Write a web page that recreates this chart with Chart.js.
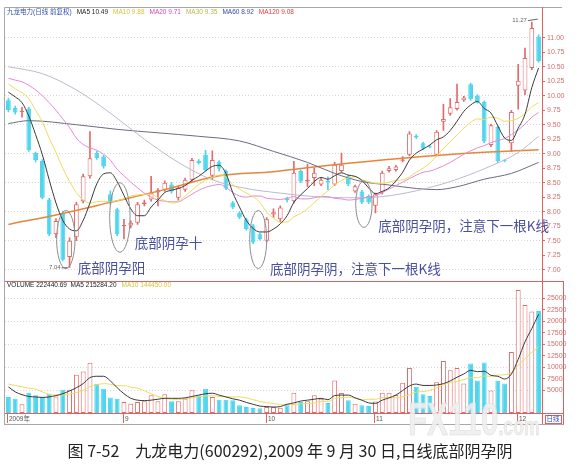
<!DOCTYPE html>
<html lang="zh">
<head>
<meta charset="utf-8">
<title>九龙电力 日线</title>
<script src="https://cdn.jsdelivr.net/npm/chart.js@4.4.1/dist/chart.umd.min.js"></script>
<style>
  html, body { margin:0; padding:0; background:#fff; }
  #wrap { position:relative; width:580px; height:466px; overflow:hidden; background:#fff; }
  canvas { position:absolute; left:0; }
  #priceCv { top:0; }
  #volCv { top:281px; }
  #wm { position:absolute; left:408px; top:392px; font:bold 46px "Liberation Sans"; color:rgba(238,238,238,0.9);
        -webkit-text-stroke:0.6px #dcdcdc; transform:scaleX(0.68); transform-origin:0 0; pointer-events:none; white-space:nowrap; }
  #wm span { font-size:26px; }
  #cap { position:absolute; left:0; top:438px; width:580px; text-align:center; font:16px "Noto Sans CJK SC"; line-height:24px; color:#222; white-space:pre; }
</style>
</head>
<body>
<div id="wrap">
  <canvas id="priceCv" width="580" height="281"></canvas>
  <canvas id="volCv" width="580" height="145"></canvas>
  <div id="wm">FX110<span>.com</span></div>
  <div id="cap">图 7-52　九龙电力(600292),2009 年 9 月 30 日,日线底部阴孕阴</div>
</div>
<script>
// ---------------- data ----------------
const categories = Array.from({length: 79}, (_, i) => String(i + 1));

const openP = [9.92,9.79,9.72,9.78,9.01,8.88,8.21,7.61,7.97,7.22,
  7.56,8.18,8.61,9.01,8.95,8.30,8.04,7.75,7.76,7.81,
  8.13,8.21,8.33,8.38,8.47,8.24,8.38,8.55,8.88,8.98,
  8.62,8.86,8.70,8.16,7.98,7.87,7.76,7.61,7.50,7.95,
  7.87,8.23,8.18,8.70,8.52,8.58,8.47,8.53,8.47,8.70,
  8.61,8.35,8.35,8.27,8.10,8.33,8.70,8.72,8.88,8.98,
  9.31,9.18,9.13,8.98,9.55,9.69,9.77,9.92,10.20,10.00,
  9.89,9.15,9.46,8.89,9.18,10.17,10.09,10.48,11.02];
const highP = [9.96,9.82,9.80,9.80,9.03,8.90,8.23,7.88,8.00,7.55,
  8.16,8.65,9.38,9.04,8.97,8.36,8.06,7.87,7.84,8.16,
  8.20,8.61,8.40,8.53,8.50,8.44,8.58,8.92,8.90,9.06,
  9.05,8.88,8.72,8.18,8.00,7.89,7.78,7.63,7.90,8.05,
  8.10,8.25,8.87,8.72,8.82,8.75,8.58,8.60,8.85,9.01,
  8.63,8.46,8.37,8.29,8.32,8.70,8.78,8.80,8.95,9.38,
  9.33,9.20,9.15,9.40,9.85,9.95,10.20,9.99,10.22,10.02,
  9.91,9.51,9.48,8.90,9.75,10.54,10.82,11.27,11.05];
const lowP = [9.72,9.68,9.63,9.04,8.86,8.22,7.58,7.55,7.15,7.04,
  7.50,8.15,8.58,8.90,8.75,8.12,7.58,7.53,7.72,7.78,
  8.10,8.18,8.10,8.35,8.32,8.20,8.35,8.52,8.82,8.70,
  8.55,8.70,8.38,8.05,7.88,7.68,7.45,7.51,7.48,7.90,
  7.82,8.17,8.15,8.50,8.43,8.45,8.45,8.38,8.45,8.68,
  8.45,8.33,8.14,8.14,7.98,8.30,8.68,8.70,8.86,8.96,
  9.26,9.07,9.10,8.96,9.40,9.66,9.75,9.90,9.92,9.87,
  9.19,9.12,8.85,8.86,9.04,9.77,10.02,10.45,10.58];
const closeP = [9.75,9.71,9.74,9.06,8.89,8.24,7.61,7.84,7.17,7.50,
  8.13,8.61,8.92,8.92,8.78,8.16,7.61,7.77,7.81,8.13,
  8.16,8.33,8.37,8.50,8.35,8.41,8.55,8.89,8.84,8.72,
  8.89,8.74,8.40,8.07,7.90,7.70,7.47,7.53,7.87,7.99,
  8.07,8.20,8.67,8.52,8.55,8.67,8.55,8.51,8.81,8.81,
  8.47,8.44,8.16,8.16,8.30,8.67,8.75,8.78,8.90,9.35,
  9.28,9.09,9.11,9.38,9.60,9.80,9.89,9.97,9.94,9.89,
  9.21,9.49,8.87,8.88,9.72,10.26,10.65,11.17,10.60];

const volume = [3480,3130,1890,4430,3840,3480,4210,3620,5080,5080,
  8350,9060,10960,6390,5300,3350,3130,2390,2040,2390,
  2540,3840,2540,4060,2540,2540,3130,4930,3840,5300,
  3480,2900,2900,2760,1670,1300,1090,1010,1300,1300,
  1160,1670,4430,2390,2540,3840,3130,2170,7100,4350,
  2760,2040,1670,1500,2500,4400,4400,3900,6600,9800,
  5700,4100,3700,6700,11300,9300,9800,6400,10800,7100,
  11000,4900,7000,6400,13300,26800,23500,22100,22240];

const ma5 = [10.06,9.98,9.88,9.65,9.33,8.98,8.55,8.15,7.85,7.70,
  7.67,7.85,8.15,8.48,8.65,8.67,8.52,8.28,8.05,7.93,
  7.93,8.08,8.20,8.33,8.37,8.40,8.45,8.54,8.61,8.70,
  8.78,8.80,8.66,8.33,8.08,7.85,7.71,7.65,7.65,7.70,
  7.79,7.93,8.16,8.29,8.40,8.52,8.59,8.56,8.62,8.67,
  8.63,8.61,8.54,8.41,8.31,8.35,8.41,8.53,8.68,8.89,
  9.01,9.08,9.15,9.24,9.29,9.40,9.56,9.73,9.84,9.90,
  9.78,9.70,9.48,9.27,9.23,9.44,9.68,10.14,10.48];
const ma10 = [10.20,10.12,10.05,9.95,9.75,9.55,9.27,9.02,8.75,8.52,
  8.33,8.20,8.15,8.17,8.18,8.17,8.19,8.22,8.27,8.29,
  8.30,8.30,8.24,8.19,8.15,8.17,8.27,8.37,8.47,8.54,
  8.59,8.63,8.60,8.47,8.39,8.32,8.26,8.16,7.99,7.89,
  7.82,7.82,7.91,7.97,8.05,8.16,8.26,8.36,8.46,8.54,
  8.58,8.60,8.55,8.52,8.49,8.49,8.51,8.54,8.55,8.60,
  8.68,8.75,8.84,8.96,9.09,9.21,9.32,9.44,9.54,9.60,
  9.59,9.63,9.61,9.56,9.57,9.61,9.69,9.81,9.88];
const ma20 = [10.30,10.27,10.24,10.18,10.10,10.00,9.88,9.75,9.60,9.45,
  9.27,9.16,9.10,9.06,8.99,8.89,8.73,8.62,8.51,8.41,
  8.32,8.25,8.20,8.18,8.17,8.17,8.23,8.30,8.37,8.42,
  8.45,8.47,8.42,8.33,8.27,8.25,8.27,8.27,8.23,8.22,
  8.21,8.23,8.26,8.22,8.22,8.24,8.26,8.26,8.23,8.22,
  8.20,8.21,8.23,8.25,8.27,8.33,8.39,8.45,8.51,8.57,
  8.63,8.68,8.70,8.74,8.79,8.85,8.92,8.99,9.05,9.10,
  9.14,9.19,9.23,9.26,9.33,9.41,9.51,9.63,9.71];
const ma30Idx = [0,5,10,15,20,25,30,35,40,45,50,55,60,65,70,75,78];
const ma30Val = [10.50,10.38,10.10,9.70,9.25,8.85,8.55,8.40,8.32,8.26,8.24,8.26,8.36,8.52,8.74,9.02,9.30];
const ma60Idx = [0,3,10,16,22,28,34,39,44,48,52,56,60,63,66,70,74,78];
const ma60Val = [9.52,9.57,9.50,9.42,9.36,9.30,9.22,9.04,8.85,8.66,8.52,8.46,8.40,8.38,8.43,8.56,8.66,8.85];
const ma120Idx = [0,8,15,23,31,39,48,58,68,78];
const ma120Val = [7.78,7.97,8.16,8.38,8.62,8.69,8.81,8.92,9.01,9.07];

const volMa5 = [5700,4600,4000,3600,3500,3400,3500,3800,4200,4800,
  5500,6400,7700,8000,8000,7000,5500,4200,3200,2800,
  2700,2800,3000,3200,3200,3200,3300,3600,3900,4200,
  4300,3900,3500,3100,2800,2300,1900,1500,1400,1300,
  1400,1900,2200,2600,2800,3000,3200,2900,3800,3900,
  3900,3300,2800,2200,2100,2800,3300,3900,4900,5900,
  6300,6000,6000,6100,6400,7000,7800,8500,9300,9000,
  9100,8200,8000,7400,8500,11700,15500,18400,21500];
const volMa10 = [6300,6000,5700,5400,5200,4600,4050,3900,3900,4150,
  4450,4950,5750,6100,6400,6250,5950,5950,5600,5400,
  4850,4150,3600,3200,3000,2950,3050,3300,3550,3700,
  3750,3600,3550,3500,3500,3300,2900,2500,2250,2050,
  1850,1900,1850,2000,2050,2200,2550,2550,3200,3350,
  3450,3250,2850,3000,3000,3350,3300,3350,3550,4000,
  4550,4650,4950,5500,6150,6650,6900,7250,7700,7700,
  8050,8000,8250,8350,8750,10400,11850,13200,14450];

const priceTicks = [7.00,7.25,7.50,7.75,8.00,8.25,8.50,8.75,9.00,9.25,9.50,9.75,10.00,10.25,10.50,10.75,11.00];
const volTicks = [5000,7500,10000,12500,15000,17500,20000,22500,25000];
const monthTickIdx = [0,17,38,54,75];
const monthTickText = ['2009年','9','10','11','12'];

const priceLegend = [
  {t:'九龙电力(日线 前复权)', c:'#3050a8'},
  {t:'MA5 10.49', c:'#222222'},
  {t:'MA10 9.88', c:'#d6c43a'},
  {t:'MA20 9.71', c:'#d046c0'},
  {t:'MA30 9.35', c:'#b8b84a'},
  {t:'MA60 8.92', c:'#3848a8'},
  {t:'MA120 9.08', c:'#e03a3a'}
];
const volLegend = [
  {t:'VOLUME 222440.69  MA5 215284.20', c:'#222222'},
  {t:'MA10 144450.00', c:'#d6c43a'}
];

// annotation layout (data coordinates)
const ovals = [
  {i0:7.1, i1:9.8, p0:7.02, p1:8.02},
  {i0:14.9, i1:17.9, p0:7.30, p1:8.50},
  {i0:35.5, i1:38.0, p0:7.02, p1:8.02},
  {i0:51.1, i1:53.5, p0:7.73, p1:8.53}
];
const notes = [
  {text:'底部阴孕阳', i:10.2, p:7.03},
  {text:'底部阴孕十', i:18.6, p:7.47},
  {text:'底部阴孕阴，注意下一根K线', i:38.5, p:7.01},
  {text:'底部阴孕阴，注意下一根K线', i:54.4, p:7.76}
];

// ---------------- helpers ----------------
const UP = '#e36a6a', DOWN = '#4fd5ee';
const isUp = closeP.map((c, i) => c >= openP[i]);
function sparse(idx, val) {
  const a = new Array(categories.length).fill(null);
  idx.forEach((k, j) => { a[k] = val[j]; });
  return a;
}
function lineDs(data, color, width, extra) {
  return Object.assign({type:'line', data, borderColor:color, borderWidth:width, pointRadius:0,
    tension:0.4, cubicInterpolationMode:'monotone', fill:false, order:0}, extra || {});
}
function hl(ctx, y, x0, x1) { ctx.beginPath(); ctx.moveTo(x0, y); ctx.lineTo(x1, y); ctx.stroke(); }
function vl(ctx, x, y0, y1) { ctx.beginPath(); ctx.moveTo(x, y0); ctx.lineTo(x, y1); ctx.stroke(); }
const tickFont = {family:'Liberation Sans', size:7};

// ---------------- overlays ----------------
const priceOverlay = {
  id:'priceOverlay',
  afterDraw(chart) {
    const {ctx, chartArea:a, scales:{x, y}} = chart;
    ctx.save();
    ctx.lineWidth = 1;
    ctx.strokeStyle = '#a8a8a8';
    ctx.beginPath(); ctx.moveTo(a.left - 0.5, chart.height); ctx.lineTo(a.left - 0.5, 7.5); ctx.lineTo(562, 7.5); ctx.stroke();
    ctx.strokeStyle = '#e06060';
    vl(ctx, a.right + 0.5, 7, chart.height);
    // legend
    ctx.font = '6.5px "Liberation Sans", "Noto Sans CJK SC"';
    ctx.textBaseline = 'middle'; ctx.textAlign = 'left';
    let lx = a.left + 2;
    for (const it of priceLegend) { ctx.fillStyle = it.c; ctx.fillText(it.t, lx, 12); lx += ctx.measureText(it.t).width + 5; }
    // ovals
    ctx.strokeStyle = '#8c8c8c';
    for (const o of ovals) {
      const x0 = x.getPixelForValue(o.i0), x1 = x.getPixelForValue(o.i1);
      const y0 = y.getPixelForValue(o.p1), y1 = y.getPixelForValue(o.p0);
      ctx.beginPath(); ctx.ellipse((x0 + x1) / 2, (y0 + y1) / 2, (x1 - x0) / 2, (y1 - y0) / 2, 0, 0, Math.PI * 2); ctx.stroke();
    }
    // notes
    ctx.font = '13.5px "Noto Sans CJK SC"'; ctx.fillStyle = '#4a4f9e';
    for (const n of notes) ctx.fillText(n.text, x.getPixelForValue(n.i), y.getPixelForValue(n.p));
    // extreme markers
    ctx.font = '6px "Liberation Sans"'; ctx.fillStyle = '#666'; ctx.strokeStyle = '#666';
    const li = lowP.indexOf(Math.min(...lowP));
    let px = x.getPixelForValue(li), py = y.getPixelForValue(lowP[li]);
    ctx.textAlign = 'right'; ctx.fillText(lowP[li].toFixed(2), px - 9, py);
    hl(ctx, py + 0.5, px - 8, px - 2);
    const hi = highP.indexOf(Math.max(...highP));
    px = x.getPixelForValue(hi); py = y.getPixelForValue(highP[hi]);
    ctx.fillText(highP[hi].toFixed(2), px - 5, py - 2);
    ctx.beginPath(); ctx.moveTo(px - 4, py - 1.5); ctx.lineTo(px + 6, py - 3); ctx.stroke();
    ctx.restore();
  }
};

const volOverlay = {
  id:'volOverlay',
  afterDraw(chart) {
    const {ctx, chartArea:a, scales:{x}} = chart;
    ctx.save();
    ctx.lineWidth = 1;
    ctx.strokeStyle = '#e06060';
    hl(ctx, 0.5, a.left - 0.5, 563.5);
    hl(ctx, a.bottom + 0.5, a.left - 0.5, 563.5);
    vl(ctx, a.right + 0.5, 0, chart.height - 1);
    vl(ctx, 563.5, 0, chart.height - 1);
    ctx.strokeStyle = '#a8a8a8';
    hl(ctx, chart.height - 1.5, a.left - 0.5, 563.5);
    vl(ctx, a.left - 0.5, 0, chart.height - 1);
    // legend
    ctx.font = '6.5px "Liberation Sans"';
    ctx.textBaseline = 'middle'; ctx.textAlign = 'left';
    let lx = a.left + 2;
    for (const it of volLegend) { ctx.fillStyle = it.c; ctx.fillText(it.t, lx, 4); lx += ctx.measureText(it.t).width + 5; }
    // month labels
    ctx.font = '6.5px "Liberation Sans", "Noto Sans CJK SC"';
    monthTickIdx.forEach((k, j) => {
      const px = Math.round(x.getPixelForValue(k));
      ctx.strokeStyle = '#e06060';
      vl(ctx, px - 0.5, a.bottom + 1, a.bottom + 10);
      ctx.fillStyle = '#555';
      ctx.fillText(monthTickText[j], px + 1, a.bottom + 6.5);
    });
    // small period box
    ctx.strokeStyle = '#e06060';
    ctx.strokeRect(a.right + 3.5, a.bottom + 2.5, 16, 8);
    ctx.fillStyle = '#3050c0';
    ctx.fillText('日线', a.right + 4.5, a.bottom + 6.5);
    ctx.restore();
  }
};

// ---------------- price chart ----------------
new Chart(document.getElementById('priceCv'), {
  type:'bar',
  data:{
    labels: categories,
    datasets:[
      lineDs(ma5, '#3a3a3a', 1),
      lineDs(ma10, '#eedc5a', 1),
      lineDs(ma20, '#e38ad6', 1),
      lineDs(sparse(ma30Idx, ma30Val), '#bdb9cc', 1, {spanGaps:true}),
      lineDs(sparse(ma60Idx, ma60Val), '#6c6c80', 1, {spanGaps:true}),
      lineDs(sparse(ma120Idx, ma120Val), '#e8853a', 1.5, {spanGaps:true}),
      {label:'body', data: openP.map((o, i) => [Math.min(o, closeP[i]), Math.max(o, closeP[i])]),
       backgroundColor: isUp.map(u => u ? '#ffffff' : DOWN), borderColor: isUp.map(u => u ? UP : DOWN),
       borderWidth:1, borderSkipped:false, minBarLength:1, categoryPercentage:1, barPercentage:0.7, grouped:false, order:1},
      {label:'wick', data: lowP.map((l, i) => [l, highP[i]]),
       backgroundColor: isUp.map(u => u ? UP : DOWN), borderWidth:0, barThickness:1, grouped:false, order:2}
    ]
  },
  options:{
    responsive:false, animation:false, events:[],
    layout:{padding:{left:5, right:5, top:17, bottom:3}},
    plugins:{legend:{display:false}, tooltip:{enabled:false}},
    scales:{
      x:{display:false, offset:true, grid:{display:false}},
      y:{position:'right', min:6.911, max:11.358,
         afterBuildTicks: s => { s.ticks = priceTicks.map(v => ({value:v})); },
         afterFit: s => { s.width = 33; },
         ticks:{color:'#dc6a6a', font:tickFont, padding:2, autoSkip:false, callback: v => Number(v).toFixed(2)},
         grid:{color: c => (c.tick && Math.abs(c.tick.value * 2 - Math.round(c.tick.value * 2)) < 1e-6) ? '#d6d6d6' : 'rgba(0,0,0,0)',
               tickColor:'#dc6a6a', tickLength:3, lineWidth:1},
         border:{display:false, dash:[1,2]}
      }
    }
  },
  plugins:[priceOverlay]
});

// ---------------- volume chart ----------------
new Chart(document.getElementById('volCv'), {
  type:'bar',
  data:{
    labels: categories,
    datasets:[
      lineDs(volMa5, '#3a3a3a', 1),
      lineDs(volMa10, '#eedc5a', 1),
      {label:'vol', data: volume,
       backgroundColor: isUp.map(u => u ? '#ffffff' : DOWN), borderColor: isUp.map(u => u ? UP : DOWN),
       borderWidth:1, borderSkipped:false, categoryPercentage:1, barPercentage:0.72, order:1}
    ]
  },
  options:{
    responsive:false, animation:false, events:[],
    layout:{padding:{left:5, right:5, top:6, bottom:13}},
    plugins:{legend:{display:false}, tooltip:{enabled:false}},
    scales:{
      x:{display:false, offset:true, grid:{display:false}},
      y:{position:'right', min:0, max:27400,
         afterBuildTicks: s => { s.ticks = volTicks.map(v => ({value:v})); },
         afterFit: s => { s.width = 33; },
         ticks:{color:'#dc6a6a', font:tickFont, padding:2, autoSkip:false, callback: v => String(v)},
         grid:{color: c => (c.tick && c.tick.value % 5000 === 0) ? '#d6d6d6' : 'rgba(0,0,0,0)',
               tickColor:'#dc6a6a', tickLength:3, lineWidth:1},
         border:{display:false, dash:[1,2]}
      }
    }
  },
  plugins:[volOverlay]
});
</script>
</body>
</html>
